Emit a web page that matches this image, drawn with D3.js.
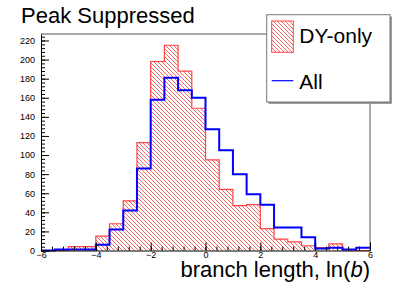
<!DOCTYPE html>
<html>
<head>
  <meta charset="utf-8">
  <script src="https://d3js.org/d3.v7.min.js"></script>
  <style>
    body { margin: 0; background: #fff; }
    svg { display: block; font-family: "Liberation Sans", Arial, sans-serif; }
    .tick text { font-size: 9px; fill: #000; }
  </style>
</head>
<body>
<div id="chart"></div>
<script>
// bin low edges (width 0.5) from -6 to 6
const binEdges = [-6, -5.5, -5, -4.5, -4, -3.5, -3, -2.5, -2, -1.5, -1, -0.5,
                  0, 0.5, 1, 1.5, 2, 2.5, 3, 3.5, 4, 4.5, 5, 5.5];
const binWidth = 0.5;
const dyOnly = [0, 0, 4, 4, 15, 28, 52, 113, 198, 215, 188, 149,
                95, 64, 47, 48, 23, 12, 9, 5, 3, 7, 1, 0];
const allBranches = [0, 1, 1, 1, 6, 22, 42, 86, 158, 181, 168, 160,
                     127, 105, 80, 59, 48, 24, 24, 14, 2, 3, 1, 3];
const xTicks = [-6, -4, -2, 0, 2, 4, 6];
const yTicks = [0, 20, 40, 60, 80, 100, 120, 140, 160, 180, 200, 220];
const legendLabels = ["DY-only", "All"];

const W = 411, H = 295;
const mLeft = 41, mRight = 370, mTop = 34, mBottom = 250.5;

const svg = d3.select("#chart").append("svg")
  .attr("width", W).attr("height", H);

const defs = svg.append("defs");
const pat = defs.append("pattern")
  .attr("id", "hatch")
  .attr("patternUnits", "userSpaceOnUse")
  .attr("width", 4).attr("height", 4);
pat.append("path")
  .attr("d", "M-1,-1 L5,5 M-1,3 L1,5 M3,-1 L5,1")
  .attr("stroke", "#ff5555")
  .attr("stroke-width", 0.9);

const x = d3.scaleLinear().domain([-6, 6]).range([mLeft, mRight]);
const y = d3.scaleLinear().domain([0, 226.8]).range([mBottom, mTop]);

// step data: each bin start plus closing edge
const stepPts = vals => {
  const pts = binEdges.map((e, i) => [e, vals[i]]);
  pts.push([binEdges[binEdges.length - 1] + binWidth, vals[vals.length - 1]]);
  return pts;
};

const area = d3.area().curve(d3.curveStepAfter)
  .x(d => x(d[0])).y0(y(0)).y1(d => y(d[1]));
const line = d3.line().curve(d3.curveStepAfter)
  .x(d => x(d[0])).y(d => y(d[1]));

// DY-only hatched histogram
svg.append("path")
  .datum(stepPts(dyOnly))
  .attr("d", area)
  .attr("fill", "url(#hatch)");

svg.append("path")
  .datum(stepPts(dyOnly))
  .attr("d", line)
  .attr("fill", "none")
  .attr("stroke", "#ff4444")
  .attr("stroke-width", 1.2);

// All
svg.append("path")
  .datum(stepPts(allBranches))
  .attr("d", line)
  .attr("fill", "none")
  .attr("stroke", "#0000ff")
  .attr("stroke-width", 2);

// frame top/right
svg.append("line").attr("x1", mLeft).attr("x2", mRight).attr("y1", mTop).attr("y2", mTop)
  .attr("stroke", "#555");
svg.append("line").attr("x1", mRight).attr("x2", mRight).attr("y1", mTop).attr("y2", mBottom)
  .attr("stroke", "#555");

// axes
const yMinor = svg.append("g").attr("transform", `translate(${mLeft},0)`)
  .call(d3.axisLeft(y).tickValues(d3.range(0, 227, 4)).tickSizeInner(-4).tickSizeOuter(0).tickFormat(""));
yMinor.select(".domain").remove();
svg.append("g").attr("transform", `translate(${mLeft},0)`)
  .call(d3.axisLeft(y).tickValues(yTicks).tickSizeInner(-8).tickSizeOuter(0).tickPadding(6));

const xMinor = svg.append("g").attr("transform", `translate(0,${mBottom})`)
  .call(d3.axisBottom(x).tickValues(d3.range(-6, 6.01, 0.4)).tickSizeInner(-4).tickSizeOuter(0).tickFormat(""));
xMinor.select(".domain").remove();
svg.append("g").attr("transform", `translate(0,${mBottom})`)
  .call(d3.axisBottom(x).tickValues(xTicks).tickSizeInner(-8).tickSizeOuter(0).tickPadding(1));

svg.selectAll(".domain").attr("stroke", "#000");

// title
svg.append("text")
  .attr("x", 21).attr("y", 22.7)
  .attr("font-size", 22)
  .text("Peak Suppressed");

// x label
const xl = svg.append("text")
  .attr("x", mRight).attr("y", 277)
  .attr("text-anchor", "end")
  .attr("font-size", 22);
xl.append("tspan").text("branch length, ln(");
xl.append("tspan").attr("font-style", "italic").text("b");
xl.append("tspan").text(")");

// legend
const lg = svg.append("g");
lg.append("rect").attr("x", 268.5).attr("y", 16.5).attr("width", 123.3).attr("height", 87.3)
  .attr("fill", "#888");
lg.append("rect").attr("x", 266.7).attr("y", 14.7).attr("width", 123.3).attr("height", 87.3)
  .attr("fill", "#fff").attr("stroke", "#777");
lg.append("rect").attr("x", 271.7).attr("y", 21).attr("width", 21.6).attr("height", 31.3)
  .attr("fill", "url(#hatch)").attr("stroke", "#ff4444");
lg.append("text").attr("x", 299.3).attr("y", 43.3).attr("font-size", 21).text(legendLabels[0]);
lg.append("line").attr("x1", 271.7).attr("x2", 293.3).attr("y1", 80.7).attr("y2", 80.7)
  .attr("stroke", "#0000ff").attr("stroke-width", 1.2);
lg.append("text").attr("x", 299.3).attr("y", 89.3).attr("font-size", 21).text(legendLabels[1]);
</script>
</body>
</html>
